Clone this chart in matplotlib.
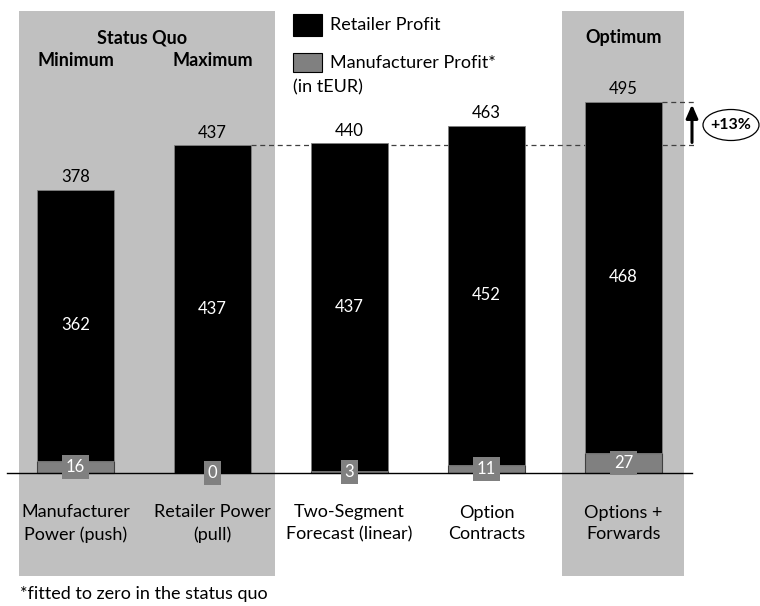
import matplotlib
matplotlib.use("Agg")
import matplotlib.pyplot as plt
from matplotlib.patches import Rectangle, Ellipse

plt.rcParams['font.family'] = ['Lato', 'DejaVu Sans']

# data (tEUR)
categories = ['Manufacturer\nPower (push)', 'Retailer Power\n(pull)',
              'Two-Segment\nForecast (linear)', 'Option\nContracts',
              'Options +\nForwards']
retailer = [362, 437, 437, 452, 468]
manufacturer = [16, 0, 3, 11, 27]
totals = [378, 437, 440, 463, 495]

BLACK = '#000000'
MGREY = '#808080'
BGGREY = '#c0c0c0'

fig = plt.figure(figsize=(7.6, 6.06), dpi=100)
ax = fig.add_axes([0, 0, 1, 1])

# pixel mapping: bar spacing 137px, 0.75 px per tEUR, baseline at y=473
px_x = lambda p: (p - 75.5) / 137.0
px_y = lambda p: (473 - p) / 0.75
ax.set_xlim(px_x(0), px_x(760))
ax.set_ylim(px_y(606), px_y(0))
ax.axis('off')

# shaded groups
ax.add_patch(Rectangle((px_x(19), px_y(576)), px_x(275) - px_x(19),
                       px_y(11) - px_y(576), color=BGGREY, zorder=0, lw=0))
ax.add_patch(Rectangle((px_x(562), px_y(576)), px_x(684) - px_x(562),
                       px_y(11) - px_y(576), color=BGGREY, zorder=0, lw=0))

x = list(range(len(categories)))
w = 77 / 137.0
ax.bar(x, manufacturer, w, color=MGREY, edgecolor='#404040', lw=0.8, zorder=2)
ax.bar(x, retailer, w, bottom=manufacturer, color=BLACK,
       edgecolor='#808080', lw=0.6, zorder=2)

# baseline
ax.plot([px_x(7), px_x(692)], [0, 0], color='black', lw=1, zorder=3)

fs = 13     # text
fn = 12     # numbers
for i in x:
    ax.text(i, totals[i] + 6, str(totals[i]), ha='center', va='bottom',
            fontsize=fn, zorder=4)
    ax.text(i, manufacturer[i] + retailer[i] / 2, str(retailer[i]),
            ha='center', va='center', color='white', fontsize=fn, zorder=4)
    ax.text(i, manufacturer[i] / 2, str(manufacturer[i]), ha='center',
            va='center', color='white', fontsize=fn, zorder=4,
            bbox=dict(boxstyle='square,pad=0.25', fc=MGREY, ec='none'))
    ax.text(i, px_y(523.5), categories[i], ha='center', va='center',
            fontsize=fs, linespacing=1.45, zorder=4)

# dashed reference lines and arrow
right2 = 1 + w / 2
right5 = 4 + w / 2
ax.plot([right2, px_x(696)], [totals[1], totals[1]], ls=(0, (4, 3)),
        color='#404040', lw=0.9, zorder=1)
ax.plot([right5, px_x(696)], [totals[4], totals[4]], ls=(0, (4, 3)),
        color='#404040', lw=0.9, zorder=3)
ax.annotate('', xy=(px_x(692), totals[4]), xytext=(px_x(692), totals[1]),
            arrowprops=dict(arrowstyle='-|>,head_width=0.35,head_length=0.8',
                            color='black', lw=2.2), zorder=4)
ax.add_patch(Ellipse((px_x(731), px_y(125)), px_x(759) - px_x(703),
                     px_y(109) - px_y(140), fc='white', ec='black', lw=0.9,
                     zorder=4))
ax.text(px_x(731), px_y(125), '+13%', ha='center', va='center',
        fontsize=11.5, fontweight='bold', zorder=5)

# headings
ax.text(px_x(142), px_y(38), 'Status Quo', ha='center', va='center',
        fontsize=fs, fontweight='bold')
ax.text(0, px_y(60), 'Minimum', ha='center', va='center',
        fontsize=fs, fontweight='bold')
ax.text(1, px_y(60), 'Maximum', ha='center', va='center',
        fontsize=fs, fontweight='bold')
ax.text(4, px_y(37), 'Optimum', ha='center', va='center',
        fontsize=fs, fontweight='bold')

# legend
ax.add_patch(Rectangle((px_x(293), px_y(36)), px_x(322) - px_x(293),
                       px_y(14) - px_y(36), fc=BLACK, ec='black', lw=0.8))
ax.add_patch(Rectangle((px_x(293), px_y(72)), px_x(322) - px_x(293),
                       px_y(53) - px_y(72), fc=MGREY, ec='black', lw=0.8))
ax.text(px_x(330), px_y(25), 'Retailer Profit', ha='left', va='center',
        fontsize=fs)
ax.text(px_x(330), px_y(63), 'Manufacturer Profit*', ha='left', va='center',
        fontsize=fs)
ax.text(px_x(293), px_y(87), '(in tEUR)', ha='left', va='center', fontsize=fs)

# footnote
ax.text(px_x(20), px_y(594), '*fitted to zero in the status quo', ha='left',
        va='center', fontsize=fs)

fig.savefig('out.png', dpi=100)
